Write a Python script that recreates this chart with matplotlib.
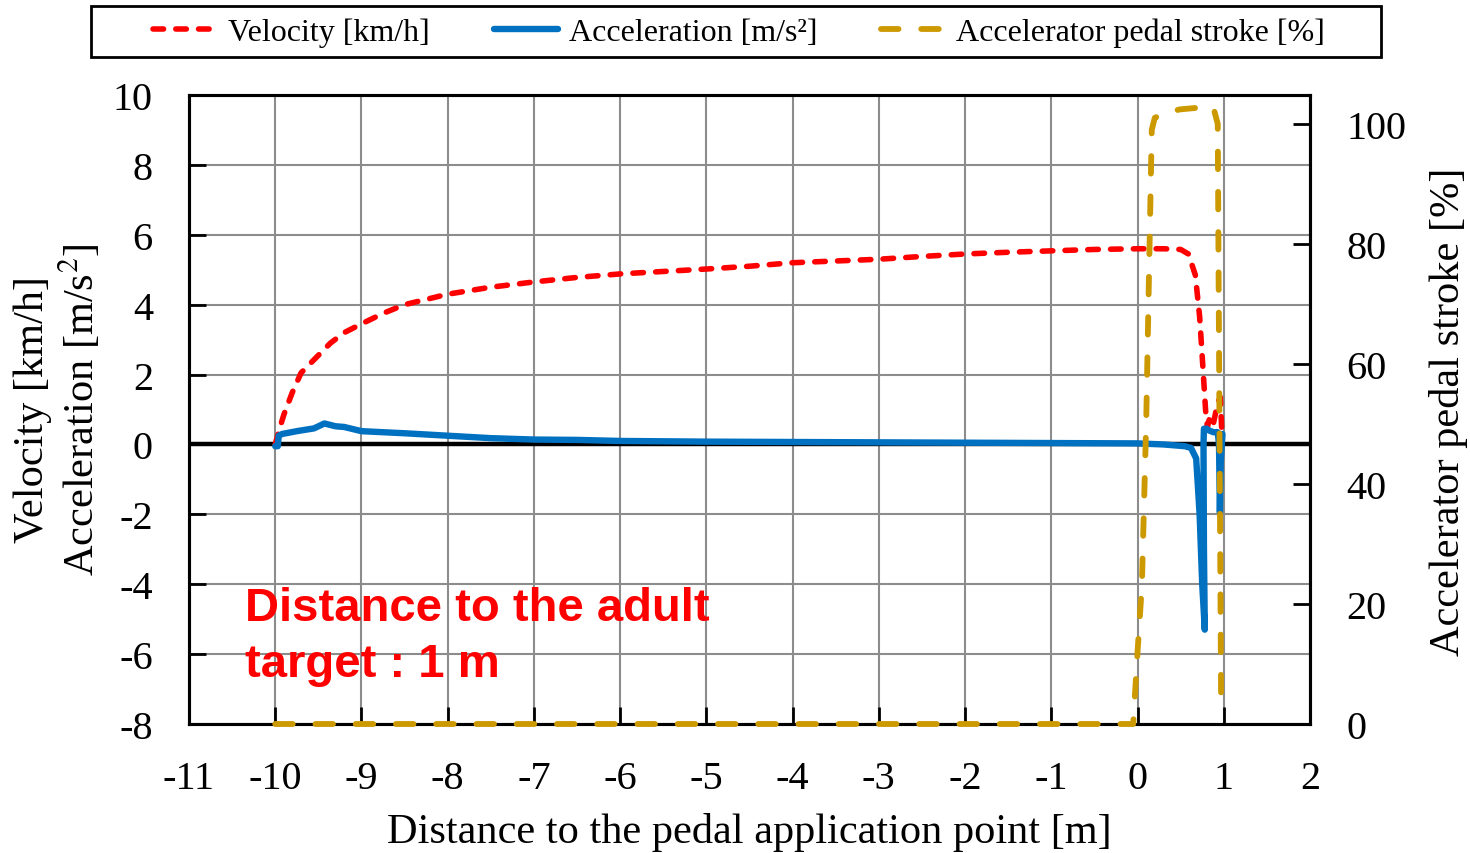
import matplotlib
matplotlib.use('Agg')
import matplotlib.pyplot as plt
from matplotlib.patches import Rectangle

# distance to the pedal application point [m] vs measured signals
vel_x = [-10, -9.95, -9.9, -9.8, -9.7, -9.5, -9.36, -9.2, -9.0, -8.75, -8.5, -8.0, -7.5, -7.0, -6.5, -6.0,
         -5.5, -5.0, -4.5, -4.0, -3.5, -3.0, -2.5, -2.0, -1.5, -1.0, -0.5, 0.0, 0.3, 0.5, 0.59, 0.67, 0.72,
         0.76, 0.79, 0.81, 0.84, 0.88, 0.93, 0.96, 0.98]
vel_y = [0, 0.45, 0.85, 1.5, 2.05, 2.55, 2.9, 3.2, 3.45, 3.75, 4.0, 4.3, 4.5, 4.65, 4.78, 4.88,
         4.95, 5.02, 5.1, 5.2, 5.25, 5.3, 5.38, 5.45, 5.5, 5.54, 5.58, 5.6, 5.6, 5.58, 5.45, 4.85, 3.66,
         2.13, 0.95, 0.5, 0.8, 0.6, 1.2, 1.35, 0.2]

acc_x = [-10, -9.97, -9.96, -9.92, -9.75, -9.55, -9.43, -9.3, -9.2, -9.0, -8.5, -8.0, -7.5, -7.0, -6.5,
         -6.0, -5.0, -4.0, -3.0, -2.0, -1.0, 0.0, 0.3, 0.55, 0.62, 0.68, 0.72, 0.75, 0.78, 0.77, 0.765,
         0.77, 0.8, 0.83, 0.88, 0.93, 0.945, 0.955, 0.965, 0.985]
acc_y = [-0.05, -0.05, 0.25, 0.3, 0.38, 0.46, 0.6, 0.52, 0.5, 0.38, 0.32, 0.25, 0.18, 0.14, 0.13,
         0.1, 0.08, 0.07, 0.06, 0.05, 0.04, 0.03, 0.0, -0.05, -0.1, -0.4, -2.0, -4.0, -5.3, -3.0, 0.0,
         0.45, 0.45, 0.4, 0.35, 0.35, 0.0, -1.95, -0.5, 0.3]

ped_x = [-10, -1.0, -0.05, -0.04, 0.0, 0.05, 0.1, 0.137, 0.165, 0.2, 0.3, 0.49, 0.72, 0.88, 0.93, 0.95, 0.97]
ped_y = [0, 0, 0, 2.5, 12, 23, 50, 78, 99, 101, 101.7, 102.4, 102.7, 102.7, 100, 50, 1.5]

x_ticks = list(range(-11, 3))
left_ticks = list(range(-8, 11, 2))
right_ticks = list(range(0, 101, 20))

plt.rcParams['font.family'] = ['Liberation Serif', 'DejaVu Serif']
plt.rcParams['mathtext.fontset'] = 'stix'
plt.rcParams['axes.unicode_minus'] = False

W, H = 1470, 854
fig = plt.figure(figsize=(W / 100, H / 100), dpi=100)
ax = fig.add_axes([189 / W, 1 - 725 / H, (1310 - 189) / W, (725 - 96) / H])
ax.set_axisbelow(True)

ax.grid(True, color='#8c8c8c', lw=1.5)
ax.axhline(0, color='black', lw=3.2, zorder=2)

l1, = ax.plot(vel_x, vel_y, color='#ff0000', lw=4.0, ls=(0, (1.9, 2.2)), dash_capstyle='round',
              zorder=3, label='Velocity [km/h]')
l2, = ax.plot(acc_x, acc_y, color='#0070c0', lw=4.6, zorder=4, solid_joinstyle='round',
              solid_capstyle='round', label='Acceleration [m/s²]')

ax.set_xlim(-11, 2)
ax.set_ylim(-8, 10)
ax.set_xticks(x_ticks)
ax.set_yticks(left_ticks)
ax.tick_params(direction='in', labelsize=29, length=12, width=2, pad=26)
for s in ax.spines.values():
    s.set_linewidth(2.2)

ax2 = ax.twinx()
l3, = ax2.plot(ped_x, ped_y, color='#cc9900', lw=4.2, ls=(0, (3.0, 3.9)), dash_capstyle='round',
               zorder=5, clip_on=False, label='Accelerator pedal stroke [%]')
ax2.set_ylim(0, 104.8)
ax2.set_yticks(right_ticks)
ax2.tick_params(direction='in', labelsize=29, length=12, width=2, pad=26)
for s in ax2.spines.values():
    s.set_linewidth(2.2)

fig.text(749 / W, 1 - 833 / H, 'Distance to the pedal application point [m]', fontsize=30.5,
         ha='center', va='center')
fig.text(58 / W, 1 - 410 / H, 'Velocity [km/h]\nAcceleration [m/s$^2$]', fontsize=30.5,
         ha='center', va='center', rotation=90, linespacing=1.15, multialignment='center')
fig.text(1448 / W, 1 - 412 / H, 'Accelerator pedal stroke [%]', fontsize=30.5,
         ha='center', va='center', rotation=90)

ax.text(-10.35, -4.05, 'Distance to the adult\ntarget : 1 m', color='#ff0000', fontsize=34,
        fontweight='bold', family='Liberation Sans', va='top', ha='left', linespacing=1.35)

fig.patches.append(Rectangle((91 / W, 1 - 58 / H), (1381 - 91) / W, 51 / H, transform=fig.transFigure,
                             fill=False, edgecolor='black', lw=2))
fig.legend(handles=[l1, l2, l3], loc='center', ncol=3, fontsize=23,
           bbox_to_anchor=(739 / W, 1 - 33 / H), frameon=False,
           handlelength=2.0, handletextpad=0.35, columnspacing=2.0, borderpad=0.1)

fig.savefig('out.png', dpi=100)
